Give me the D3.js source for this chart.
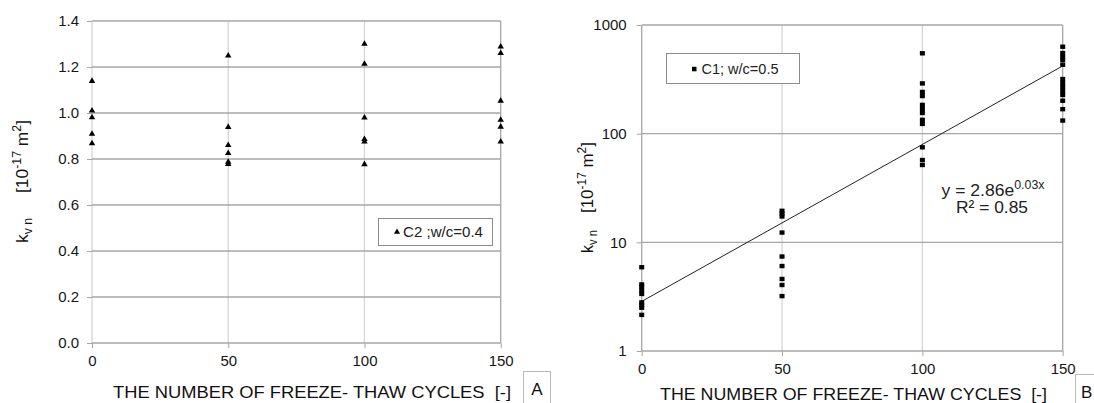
<!DOCTYPE html>
<html><head><meta charset="utf-8">
<script src="https://cdn.jsdelivr.net/npm/d3@7"></script>
<style>
body{margin:0;background:#fff;}
svg{display:block;font-family:"Liberation Sans",Arial,sans-serif;}
</style></head>
<body><svg id="c" width="1094" height="403"></svg>
<script>
// ---- Chart A data (C2; w/c=0.4) ----
const cyclesA = [0,0,0,0,0, 50,50,50,50,50,50, 100,100,100,100,100,100, 150,150,150,150,150,150];
const kA = [1.139,1.010,0.981,0.909,0.868, 1.249,0.939,0.860,0.825,0.787,0.778, 1.300,1.213,0.980,0.886,0.875,0.777, 1.288,1.260,1.053,0.970,0.940,0.875];
const xTicksA = [0,50,100,150];
const yTicksA = [0,0.2,0.4,0.6,0.8,1.0,1.2,1.4];

// ---- Chart B data (C1; w/c=0.5) ----
const cyclesB = [0,0,0,0,0,0,0,0,0, 50,50,50,50,50,50,50,50,50,
  100,100,100,100,100,100,100,100,100,100,100,100,
  150,150,150,150,150,150,150,150,150,150,150,150,150];
const kB = [5.9,4.1,3.9,3.6,3.35,2.8,2.65,2.5,2.15, 19.5,18.4,17.3,12.3,7.4,6.05,4.6,4.05,3.2,
  549,290,242,222,184,169,155,134,123,74.9,57.2,51.5,
  631,552,507,476,431,318,292,269,247,227,201,168,132];
const xTicksB = [0,50,100,150];
const yTicksB = [1,10,100,1000];
const trendX = [0,150];
const trendY = [2.86,420];

const svg = d3.select("#c");
const hGrid = "#a6a6a6", vGrid = "#d6d6d6", tickCol = "#161616";

function styleAxis(g){
  g.select(".domain").remove();
  g.selectAll(".tick line").attr("stroke",hGrid);
  g.selectAll(".tick text").attr("fill",tickCol).style("font-size","15px").style("font-family","Liberation Sans, Arial, sans-serif");
}

// ===== Chart A =====
const xA = d3.scaleLinear().domain([0,150]).range([92,500.7]);
const yA = d3.scaleLinear().domain([0,1.4]).range([343,21]);
const gA = svg.append("g");
gA.selectAll(".vg").data(xTicksA).join("line")
  .attr("x1",d=>xA(d)).attr("x2",d=>xA(d)).attr("y1",yA(1.4)).attr("y2",yA(0))
  .attr("stroke",d=> d===150 ? hGrid : vGrid).attr("stroke-width",1.3);
gA.selectAll(".hg").data(yTicksA).join("line")
  .attr("x1",xA(0)).attr("x2",xA(150)).attr("y1",d=>yA(d)).attr("y2",d=>yA(d))
  .attr("stroke",hGrid).attr("stroke-width",1.3);
gA.append("g").attr("transform",`translate(${xA(0)},0)`)
  .call(d3.axisLeft(yA).tickValues(yTicksA).tickFormat(d3.format(".1f")).tickSize(5).tickPadding(8))
  .call(styleAxis);
gA.append("g").attr("transform",`translate(0,${yA(0)})`)
  .call(d3.axisBottom(xA).tickValues(xTicksA).tickSize(5).tickPadding(7))
  .call(styleAxis);
gA.selectAll(".pt").data(cyclesA.map((c,i)=>[c,kA[i]])).join("path")
  .attr("d",d3.symbol(d3.symbolTriangle,18))
  .attr("transform",d=>`translate(${xA(d[0])},${yA(d[1])})`).attr("fill","#000");
// legend A
gA.append("rect").attr("x",378.5).attr("y",218.5).attr("width",114).attr("height",27)
  .attr("fill","#fff").attr("stroke","#8c8c8c");
gA.append("path").attr("d",d3.symbol(d3.symbolTriangle,16)).attr("transform","translate(397,232)").attr("fill","#000");
gA.append("text").attr("x",403).attr("y",237).style("font-size","15px").attr("fill","#222")
  .attr("textLength",80).attr("lengthAdjust","spacingAndGlyphs").text("C2 ;w/c=0.4");
// axis titles A
gA.append("text").attr("x",113).attr("y",398).style("font-size","17px").attr("fill","#111")
  .attr("xml:space","preserve").attr("textLength",398).attr("lengthAdjust","spacingAndGlyphs")
  .text("THE NUMBER OF FREEZE- THAW CYCLES  [-]");
function yTitle(g,x,yK,lenK,yB,lenB){
  const t1 = g.append("text").attr("transform",`translate(${x},${yK}) rotate(-90)`).style("font-size","17px").attr("fill","#111")
    .attr("textLength",lenK).attr("lengthAdjust","spacingAndGlyphs");
  t1.append("tspan").text("k");
  t1.append("tspan").attr("dy",4).style("font-size","12px").text("v n");
  const t2 = g.append("text").attr("transform",`translate(${x},${yB}) rotate(-90)`).style("font-size","17px").attr("fill","#111")
    .attr("textLength",lenB).attr("lengthAdjust","spacingAndGlyphs");
  t2.append("tspan").text("[10");
  t2.append("tspan").attr("dy",-7).style("font-size","12px").text("-17");
  t2.append("tspan").attr("dy",7).text(" m");
  t2.append("tspan").attr("dy",-7).style("font-size","12px").text("2");
  t2.append("tspan").attr("dy",7).text("]");
}
yTitle(gA,28,243,25,193,73);
// A label box
gA.append("rect").attr("x",523.5).attr("y",371.5).attr("width",27).attr("height",40).attr("fill","#fff").attr("stroke","#bbb");
gA.append("text").attr("x",537).attr("y",395).attr("text-anchor","middle").style("font-size","17px").attr("fill","#111").text("A");

// ===== Chart B =====
const xB = d3.scaleLinear().domain([0,150]).range([641.7,1062.7]);
const yB = d3.scaleLog().domain([1,1000]).range([351,25]);
const gB = svg.append("g");
gB.selectAll(".vg").data(xTicksB).join("line")
  .attr("x1",d=>xB(d)).attr("x2",d=>xB(d)).attr("y1",yB(1000)).attr("y2",yB(1))
  .attr("stroke",d=> (d===0||d===150) ? hGrid : vGrid).attr("stroke-width",1.3);
gB.selectAll(".hg").data(yTicksB).join("line")
  .attr("x1",xB(0)).attr("x2",xB(150)).attr("y1",d=>yB(d)).attr("y2",d=>yB(d))
  .attr("stroke",hGrid).attr("stroke-width",1.3);
gB.append("g").attr("transform",`translate(${xB(0)},0)`)
  .call(d3.axisLeft(yB).tickValues(yTicksB).tickFormat(d3.format("d")).tickSize(5).tickPadding(10))
  .call(styleAxis);
gB.append("g").attr("transform",`translate(0,${yB(1)})`)
  .call(d3.axisBottom(xB).tickValues(xTicksB).tickSize(5).tickPadding(7))
  .call(styleAxis);
// trendline
gB.append("path").datum(trendX.map((x,i)=>[x,trendY[i]]))
  .attr("d",d3.line().x(d=>xB(d[0])).y(d=>yB(d[1]))).attr("stroke","#222").attr("stroke-width",1).attr("fill","none");
gB.selectAll(".pt").data(cyclesB.map((c,i)=>[c,kB[i]])).join("rect")
  .attr("x",d=>xB(d[0])-2.5).attr("y",d=>yB(d[1])-2.2).attr("width",5).attr("height",4.4).attr("fill","#000");
// legend B
gB.append("rect").attr("x",666.5).attr("y",53.5).attr("width",133).attr("height",30)
  .attr("fill","#fff").attr("stroke","#8c8c8c");
gB.append("rect").attr("x",692).attr("y",66.8).attr("width",4.5).attr("height",4.5).attr("fill","#000");
gB.append("text").attr("x",701.5).attr("y",74).style("font-size","15px").attr("fill","#222")
  .attr("textLength",77).attr("lengthAdjust","spacingAndGlyphs").text("C1; w/c=0.5");
// equation
const eq = gB.append("text").attr("x",941.5).attr("y",196).style("font-size","17px").attr("fill","#222")
  .attr("textLength",103).attr("lengthAdjust","spacingAndGlyphs");
eq.append("tspan").text("y = 2.86e");
eq.append("tspan").attr("dy",-7).style("font-size","12px").text("0.03x");
gB.append("text").attr("x",956).attr("y",213).style("font-size","17px").attr("fill","#222")
  .attr("textLength",72).attr("lengthAdjust","spacingAndGlyphs").text("R² = 0.85");
gB.append("text").attr("x",660).attr("y",400).style("font-size","17px").attr("fill","#111")
  .attr("xml:space","preserve").attr("textLength",387).attr("lengthAdjust","spacingAndGlyphs")
  .text("THE NUMBER OF FREEZE- THAW CYCLES  [-]");
yTitle(gB,593,253,23,213,71);
gB.append("rect").attr("x",1075.5).attr("y",374.5).attr("width",30).attr("height",40).attr("fill","#fff").attr("stroke","#bbb");
gB.append("text").attr("x",1081).attr("y",398).style("font-size","17px").attr("fill","#111").text("B");
</script></body></html>
